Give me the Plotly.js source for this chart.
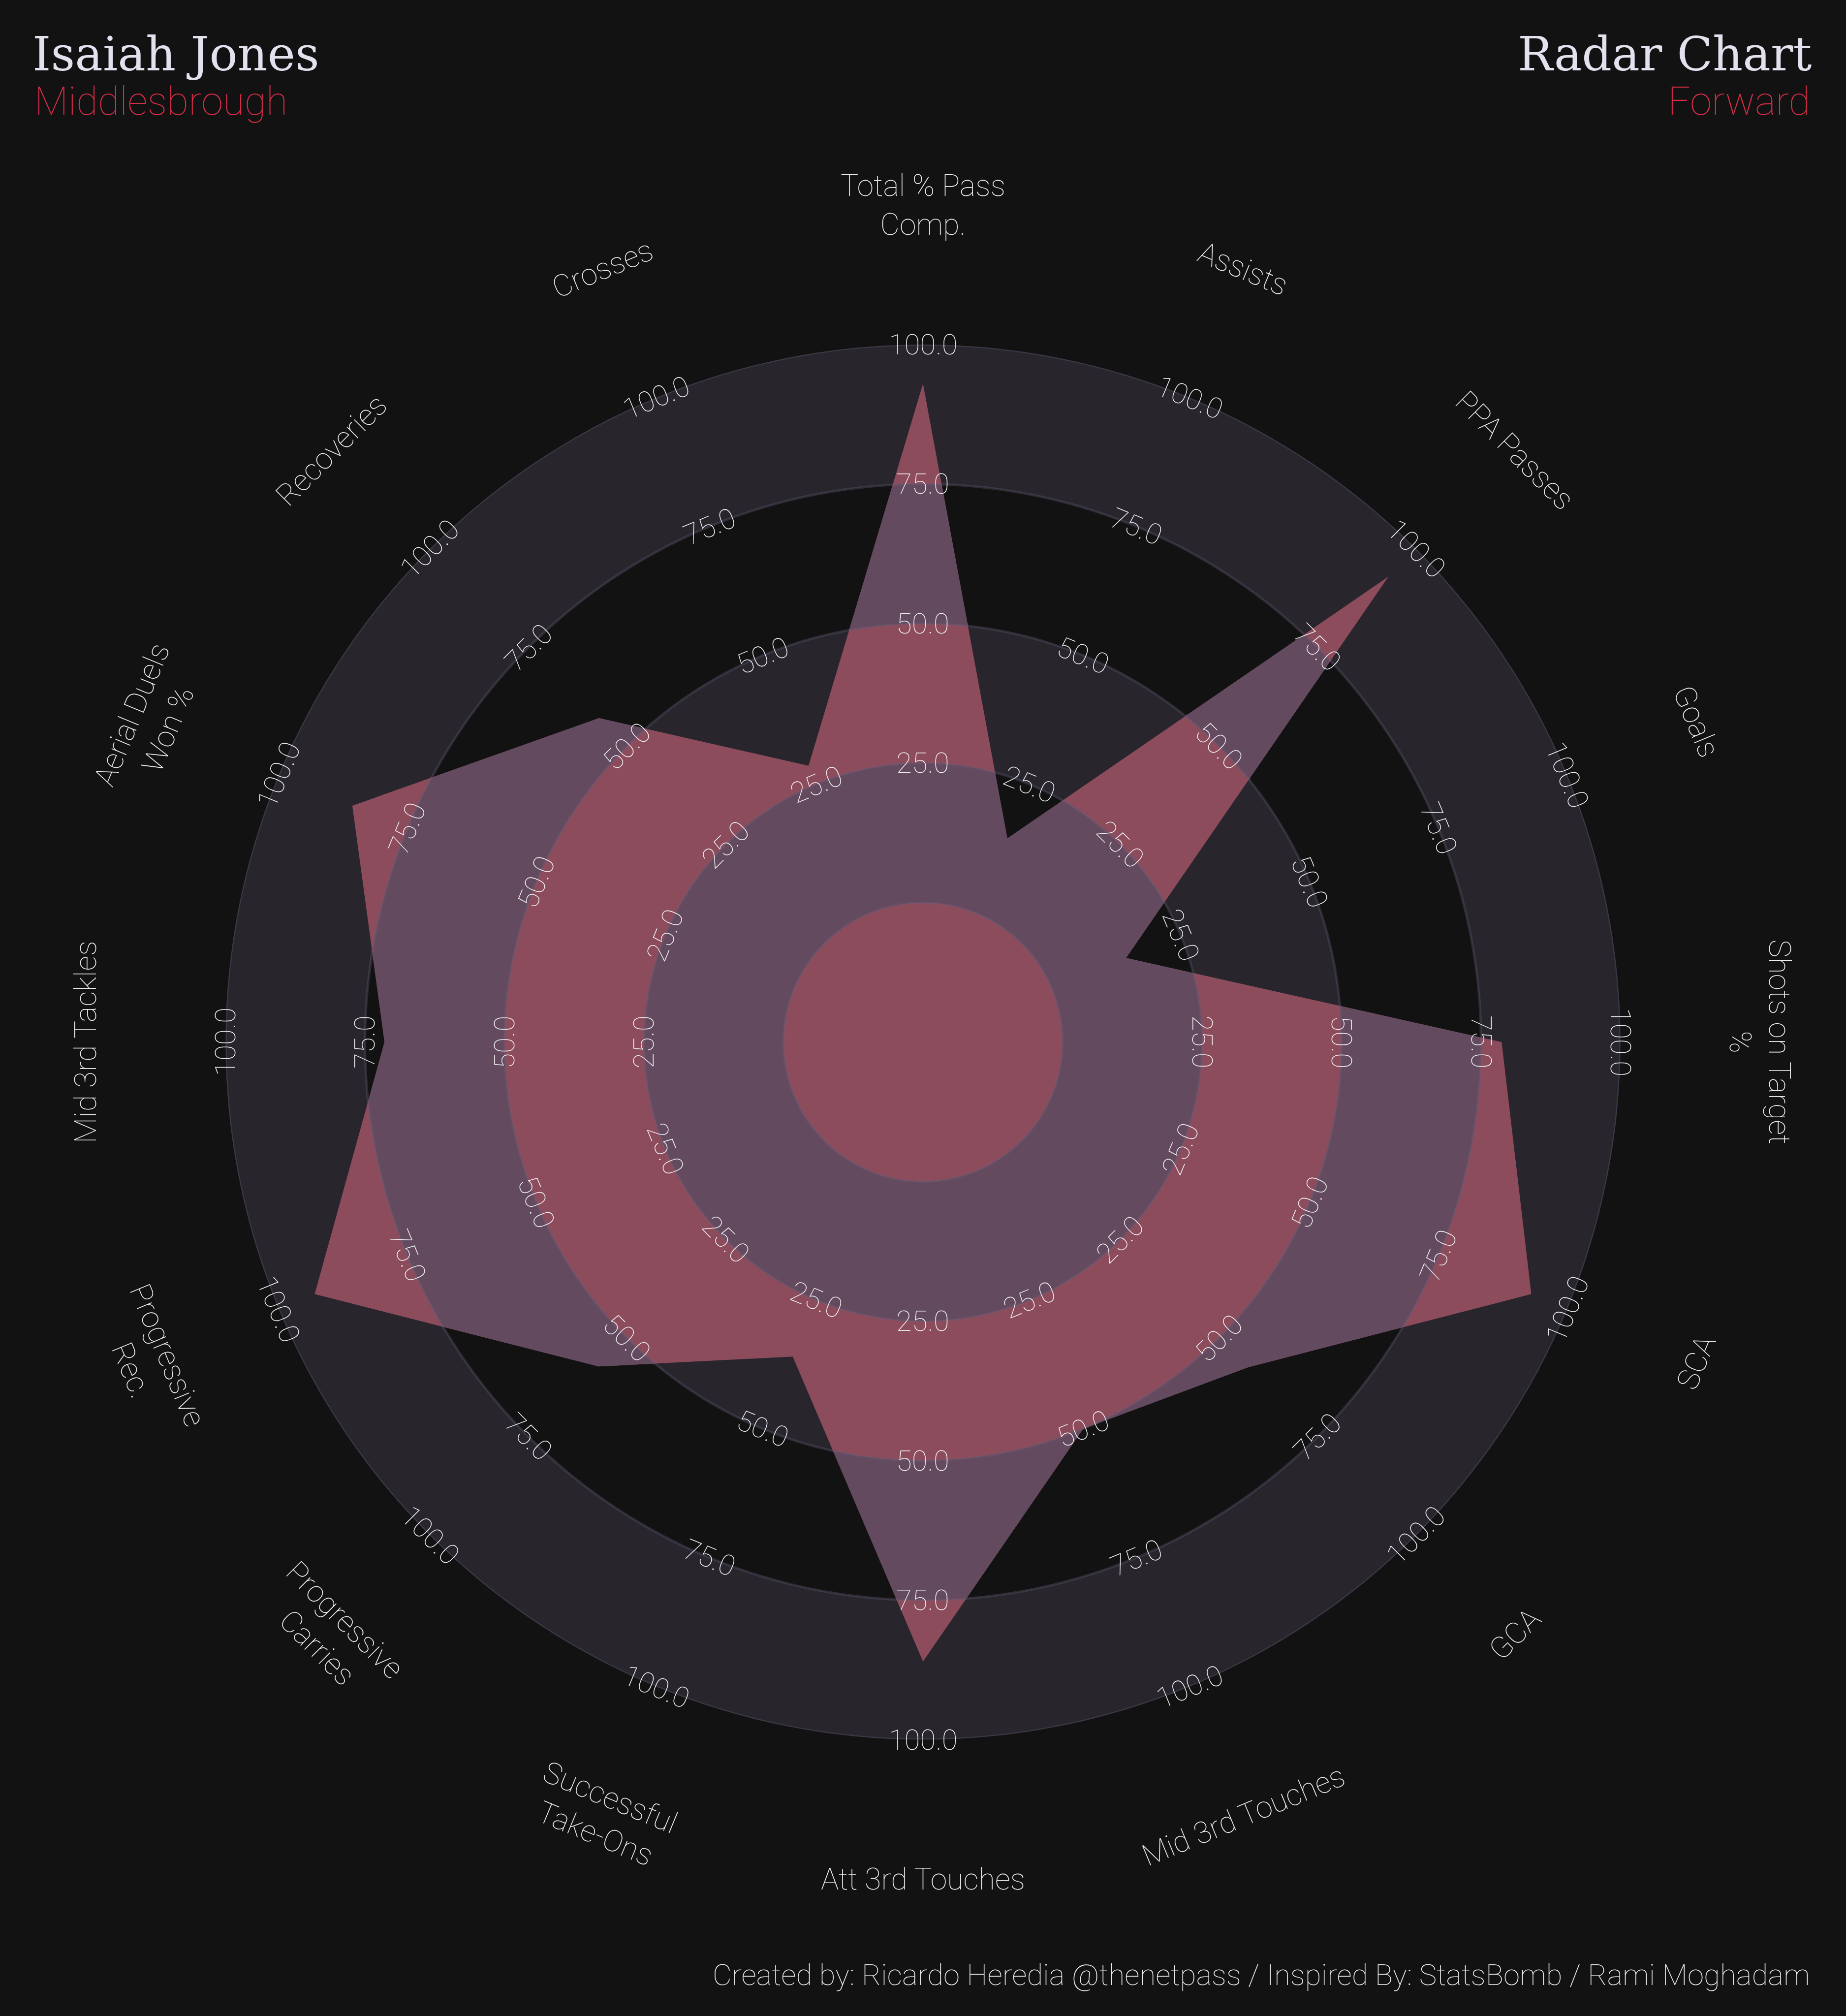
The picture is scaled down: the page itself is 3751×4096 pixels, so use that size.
<!DOCTYPE html>
<html>
<head>
<meta charset="utf-8">
<script src="https://cdn.plot.ly/plotly-3.0.1.min.js"></script>
<style>html,body{margin:0;padding:0;background:#121212;}</style>
</head>
<body>
<div id="chart" style="width:3751px;height:4096px;"></div>
<script>
// ---------------- data ----------------
const params = ["Total % Pass<br>Comp.", "Assists", "PPA Passes", "Goals", "Shots on Target<br>%", "SCA", "GCA",
  "Mid 3rd Touches", "Att 3rd Touches", "Successful<br>Take-Ons", "Progressive<br>Carries", "Progressive<br>Rec.",
  "Mid 3rd Tackles", "Aerial Duels<br>Won %", "Recoveries", "Crosses"];
const values = [93, 14.5, 93, 14.4, 78.7, 93, 57.4, 50, 86, 36, 57.2, 93, 71.5, 85.7, 57.1, 28.6];
const rangeMin = 0;
const rangeMax = 100;
const ringValues = [25, 50, 75, 100];
const ringLabels = ["25.0", "50.0", "75.0", "100.0"];
const titleLeft = "Isaiah Jones";
const subtitleLeft = "Middlesbrough";
const titleRight = "Radar Chart";
const subtitleRight = "Forward";
const footerText = "Created by: Ricardo Heredia @thenetpass / Inspired By: StatsBomb / Rami Moghadam";

// ---------------- layout constants ----------------
const W = 3751, H = 4096;
const domX = [0.12215, 0.87784];
const domY = [0.13706, 0.82910];
const BG = "#121212", RING = "#28252c", RADAR = "#8c4c5c", RADAR_RING = "#634a5f";
const EDGE = "rgba(104,94,120,0.33)";
const TXT = "#eeeef0";

const N = params.length;
const step = 360 / N;
const thetas = params.map((_, i) => i * step);
const ringW = (rangeMax - rangeMin) / ringValues.length;
const rMin = rangeMin - ringW;            // centre circle of one ring width
const offset = -rMin;
const edges = [rMin, rangeMin].concat(ringValues);   // -25,0,25,50,75,100

// radar polygon radius (axis value) at any angle, following straight edges
function rho(tDeg) {
  let t = ((tDeg % 360) + 360) % 360;
  let i = Math.floor(t / step + 1e-9); if (i >= N) i = N - 1;
  const j = (i + 1) % N;
  const a1 = i * step * Math.PI / 180, a2 = (i + 1) * step * Math.PI / 180;
  const d1 = values[i] + offset, d2 = values[j] + offset;
  const P = [d1 * Math.sin(a1), d1 * Math.cos(a1)];
  const Q = [d2 * Math.sin(a2), d2 * Math.cos(a2)];
  const E = [Q[0] - P[0], Q[1] - P[1]];
  const th = t * Math.PI / 180;
  const u = [Math.sin(th), Math.cos(th)];
  const cr = (a, b) => a[0] * b[1] - a[1] * b[0];
  return cr(P, E) / cr(u, E) - offset;
}

const traces = [];
// grey rings (centre circle and alternate bands)
for (let k = 0; k + 1 < edges.length; k += 2) {
  traces.push({
    type: "barpolar", r: [edges[k + 1] - edges[k]], base: [edges[k]], theta: [0], width: [360],
    marker: {color: RING, line: {width: 0}}, hoverinfo: "skip", showlegend: false
  });
}
// radar polygon
traces.push({
  type: "scatterpolar", mode: "lines", r: values.concat([values[0]]), theta: thetas.concat([360]),
  fill: "toself", fillcolor: RADAR, line: {width: 0, color: RADAR}, hoverinfo: "skip", showlegend: false
});
// radar part over the dark bands
const M = 1440;
for (let k = 1; k + 1 < edges.length; k += 2) {
  const lo = edges[k], hi = edges[k + 1];
  const th = [], rr = [];
  for (let s = 0; s <= M; s++) { const t = s * 360 / M; th.push(t); rr.push(Math.min(hi, Math.max(lo, rho(t)))); }
  for (let s = M; s >= 0; s--) { th.push(s * 360 / M); rr.push(lo); }
  traces.push({
    type: "scatterpolar", mode: "lines", r: rr, theta: th, fill: "toself", fillcolor: RADAR_RING,
    line: {width: 0, color: RADAR_RING}, hoverinfo: "skip", showlegend: false
  });
}
// ring edges
for (let k = 1; k < edges.length; k++) {
  const th = [], rr = [];
  for (let s = 0; s <= 720; s++) { th.push(s * 0.5); rr.push(edges[k]); }
  traces.push({
    type: "scatterpolar", mode: "lines", r: rr, theta: th,
    line: {width: 5, color: EDGE}, hoverinfo: "skip", showlegend: false
  });
}

// ---------------- annotations ----------------
const cx = W * (domX[0] + domX[1]) / 2;
const cyb = H * (domY[0] + domY[1]) / 2;
const Rpx = Math.min(W * (domX[1] - domX[0]), H * (domY[1] - domY[0])) / 2;
const pxPerVal = Rpx / (rangeMax - rMin);
function rot(phi) {
  if (phi <= 90) return phi;
  if (phi < 270) return phi - 180;
  return phi - 360;
}
const ann = [];
function polarAnn(text, phi, dist, size) {
  const a = phi * Math.PI / 180;
  const d = dist * pxPerVal;
  ann.push({
    text: text, x: (cx + d * Math.sin(a)) / W, y: (cyb + d * Math.cos(a)) / H,
    xref: "paper", yref: "paper", xanchor: "center", yanchor: "middle",
    textangle: rot(phi), showarrow: false,
    font: {family: "Roboto", size: size, color: TXT, weight: 100}
  });
}
thetas.forEach((phi, i) => {
  ringValues.forEach((v, k) => polarAnn(ringLabels[k], phi, v + offset, 58));
  polarAnn(params[i], phi, rangeMax + offset + ringW, 61);
});
function plainAnn(text, xpx, ypxCenter, anchor, font) {
  ann.push({text: text, x: xpx / W, y: 1 - ypxCenter / H, xref: "paper", yref: "paper",
    xanchor: anchor, yanchor: "middle", showarrow: false, font: font});
}
const titleFont = {family: "DejaVu Serif, serif", size: 95, color: "#e4e0ee"};
const subFont = {family: "Roboto", size: 80, color: "#d62d47", weight: 100};
plainAnn(titleLeft, 64, 110, "left", titleFont);
plainAnn(subtitleLeft, 68, 206, "left", subFont);
plainAnn(titleRight, 3684, 110, "right", titleFont);
plainAnn(subtitleRight, 3680, 206, "right", subFont);
plainAnn(footerText, 3680, 4012, "right", {family: "Roboto", size: 60, color: TXT, weight: 100});

const layout = {
  width: W, height: H, paper_bgcolor: BG, plot_bgcolor: BG,
  margin: {l: 0, r: 0, t: 0, b: 0}, showlegend: false,
  polar: {
    domain: {x: domX, y: domY}, bgcolor: "rgba(0,0,0,0)", barmode: "overlay",
    radialaxis: {range: [rMin, rangeMax], visible: false, showgrid: false},
    angularaxis: {rotation: 90, direction: "clockwise", showgrid: false, showline: false,
      showticklabels: false, ticks: "", type: "linear"}
  },
  annotations: ann
};
Plotly.newPlot("chart", traces, layout, {displayModeBar: false, staticPlot: true});
</script>
</body>
</html>
